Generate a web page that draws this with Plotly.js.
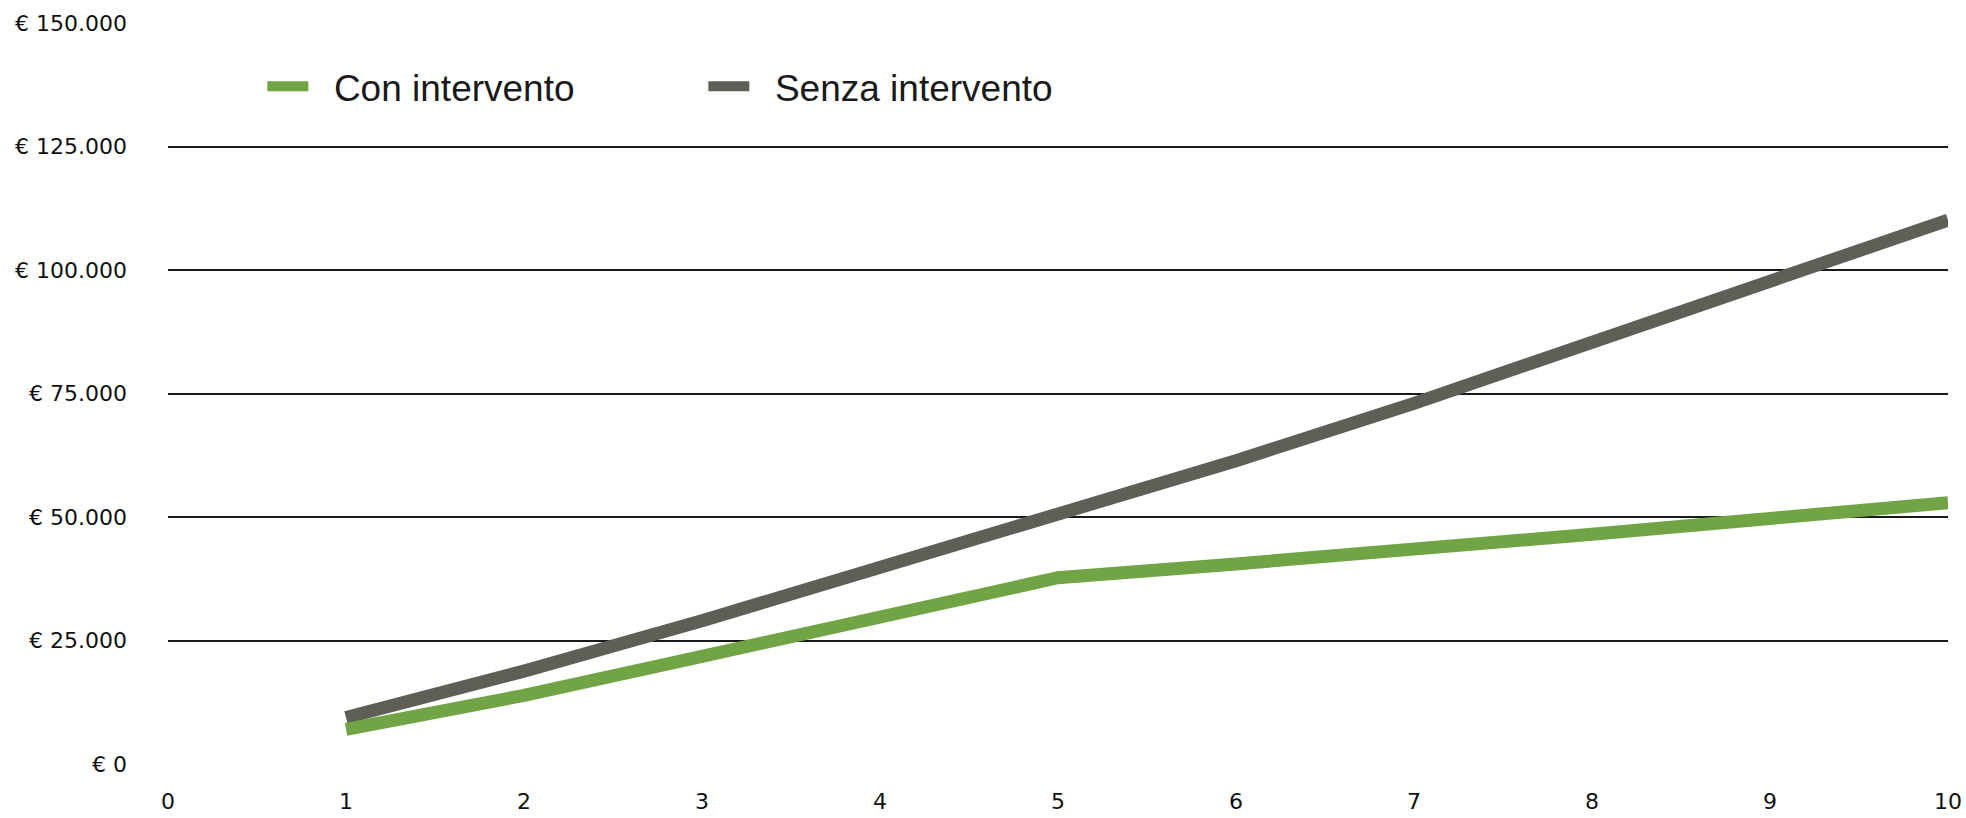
<!DOCTYPE html>
<html>
<head>
<meta charset="utf-8">
<script src="https://cdn.plot.ly/plotly-3.0.1.min.js"></script>
<style>
  html, body { margin: 0; padding: 0; background: #ffffff; }
  #chart { width: 1966px; height: 818px; }
</style>
</head>
<body>
<div id="chart"></div>
<script>
// Data
var years = [1, 2, 3, 4, 5, 6, 7, 8, 9, 10];
var conIntervento = [7000, 13900, 21800, 29600, 37700, 40500, 43300, 46500, 49700, 52900];
var senzaIntervento = [9400, 18800, 29000, 39800, 50100, 61400, 73000, 85200, 97500, 110100];
var xTickVals = [0, 1, 2, 3, 4, 5, 6, 7, 8, 9, 10];
var yTickVals = [0, 25000, 50000, 75000, 100000, 125000, 150000];
var gridVals = [25000, 50000, 75000, 100000, 125000];
var seriesNames = ["Con intervento", "Senza intervento"];

function euro(v) {
  if (v === 0) return "€ 0";
  var s = String(v);
  var out = "";
  while (s.length > 3) { out = "." + s.slice(-3) + out; s = s.slice(0, -3); }
  return "€ " + s + out;
}

var tickFont = { family: "DejaVu Sans, Arial, sans-serif", size: 22, color: "#111111" };
var gap = "\u00a0\u00a0";

var traces = [
  {
    x: years, y: senzaIntervento, name: gap + seriesNames[1], type: "scatter", mode: "lines",
    line: { color: "#5f5e57", width: 13 }, xaxis: "x", yaxis: "y", legendrank: 2, hoverinfo: "skip"
  },
  {
    x: years, y: conIntervento, name: gap + seriesNames[0], type: "scatter", mode: "lines",
    line: { color: "#70a444", width: 13 }, xaxis: "x", yaxis: "y2", legendrank: 1, hoverinfo: "skip"
  }
];

var layout = {
  width: 1966, height: 818,
  paper_bgcolor: "#ffffff", plot_bgcolor: "#ffffff",
  margin: { l: 168, r: 18, t: 23, b: 54, pad: 0 },
  showlegend: true,
  legend: {
    orientation: "h", x: 0.053, xanchor: "left", y: 0.914, yanchor: "middle",
    font: { family: "Liberation Sans, Arial, sans-serif", size: 37, color: "#1a1a1a" },
    itemwidth: 41, entrywidth: 385, bgcolor: "rgba(0,0,0,0)", traceorder: "normal"
  },
  xaxis: {
    range: [0, 10], tickmode: "array", tickvals: xTickVals, ticktext: xTickVals.map(String),
    showgrid: false, zeroline: false, showline: false, ticks: "",
    tickfont: tickFont, ticklabelstandoff: 22, fixedrange: true
  },
  yaxis: {
    range: [0, 150000], tickmode: "array", tickvals: yTickVals, ticktext: yTickVals.map(euro),
    showgrid: false, zeroline: false, showline: false, ticks: "",
    tickfont: tickFont, ticklabelstandoff: 40, fixedrange: true
  },
  yaxis2: {
    range: [0, 150000], overlaying: "y", side: "left", tickmode: "array", tickvals: gridVals,
    showticklabels: false, showgrid: true, gridcolor: "#1a1a1a", gridwidth: 2,
    zeroline: false, showline: false, ticks: "", fixedrange: true
  }
};

Plotly.newPlot("chart", traces, layout, { staticPlot: true, displayModeBar: false });
</script>
</body>
</html>
